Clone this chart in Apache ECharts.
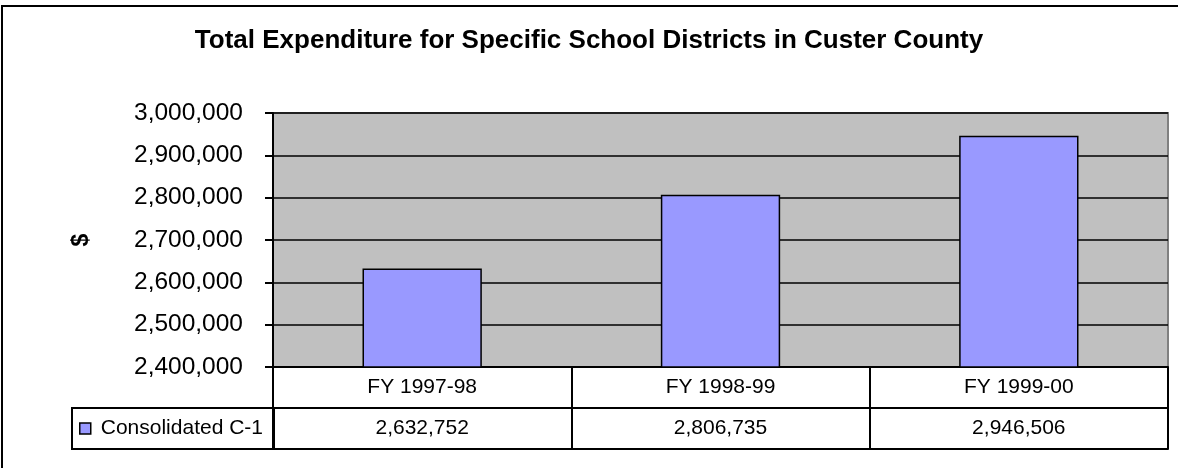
<!DOCTYPE html>
<html>
<head>
<meta charset="utf-8">
<script src="https://cdn.jsdelivr.net/npm/echarts@6/dist/echarts.min.js"></script>
<style>
  html, body { margin: 0; padding: 0; background: #ffffff; }
  #wrap { position: relative; width: 1178px; height: 468px; overflow: hidden; }
  #chart { position: absolute; left: 0; top: 0; width: 1178px; height: 468px; }
  #frame { position: absolute; left: 1px; top: 5px; width: 1300px; height: 600px;
           border-left: 2px solid #000; border-top: 2px solid #000; pointer-events: none; }
</style>
</head>
<body>
<div id="wrap">
  <div id="chart"></div>
  <div id="frame"></div>
</div>
<script>
// ---- data ----
const titleText = 'Total Expenditure for Specific School Districts in Custer County';
const categories = ['FY 1997-98', 'FY 1998-99', 'FY 1999-00'];
const seriesName = 'Consolidated C-1';
const values = [2632752, 2806735, 2946506];
const yMin = 2400000;
const yMax = 3000000;
const yStep = 100000;
const yAxisName = '$';

const FONT = 'Arial, "Liberation Sans", sans-serif';
const fmt = v => Number(v).toLocaleString('en-US');

const chart = echarts.init(document.getElementById('chart'), null, { renderer: 'canvas' });

const tableAxisBase = {
  type: 'category',
  position: 'bottom',
  data: categories,
  boundaryGap: true,
  axisLine: { show: true, lineStyle: { color: '#000', width: 2 } },
  axisTick: { show: true, length: 41, inside: false, interval: 0, lineStyle: { color: '#000', width: 2 } },
  splitLine: { show: false }
};

chart.setOption({
  backgroundColor: '#ffffff',
  animation: false,
  textStyle: { fontFamily: FONT },
  title: {
    text: titleText,
    left: 'center',
    top: 23,
    textStyle: { fontFamily: FONT, fontSize: 26, fontWeight: 'bold', color: '#000' }
  },
  legend: {
    data: [seriesName],
    left: 72,
    top: 408,
    orient: 'horizontal',
    icon: 'rect',
    itemWidth: 11,
    itemHeight: 11,
    padding: [10, 11, 10, 7],
    borderColor: '#000',
    borderWidth: 2,
    itemStyle: { borderColor: '#000', borderWidth: 1.5 },
    textStyle: { fontFamily: FONT, fontSize: 21, color: '#000', padding: [0, 0, 0, 5] }
  },
  grid: {
    left: 273,
    right: 10,
    top: 113,
    bottom: 101,
    show: true,
    backgroundColor: '#C0C0C0',
    borderColor: '#808080',
    borderWidth: 2,
    containLabel: false
  },
  xAxis: [
    Object.assign({}, tableAxisBase, {
      axisLabel: { show: true, interval: 0, margin: 10, fontFamily: FONT, fontSize: 21, color: '#000' }
    }),
    Object.assign({}, tableAxisBase, {
      offset: 41,
      axisLabel: {
        show: true, interval: 0, margin: 10, fontFamily: FONT, fontSize: 21, color: '#000',
        formatter: (v, i) => fmt(values[i])
      }
    }),
    Object.assign({}, tableAxisBase, {
      offset: 82,
      axisTick: { show: false },
      axisLabel: { show: false }
    })
  ],
  yAxis: {
    type: 'value',
    min: yMin,
    max: yMax,
    interval: yStep,
    name: yAxisName,
    nameLocation: 'middle',
    nameRotate: 90,
    nameGap: 180,
    nameTextStyle: { fontFamily: FONT, fontSize: 23, fontWeight: 'bold', color: '#000' },
    axisLine: { show: true, lineStyle: { color: '#000', width: 2 } },
    axisTick: { show: true, length: 8, inside: false, lineStyle: { color: '#000', width: 2 } },
    axisLabel: { margin: 30, fontFamily: FONT, fontSize: 24.5, color: '#000', formatter: v => fmt(v) },
    splitLine: { show: true, lineStyle: { color: '#000', width: 1.5 } }
  },
  series: [{
    name: seriesName,
    type: 'bar',
    xAxisIndex: 0,
    data: values,
    barWidth: '40%',
    itemStyle: { color: '#9999FF', borderColor: '#000', borderWidth: 1.5 }
  }]
});
</script>
</body>
</html>
